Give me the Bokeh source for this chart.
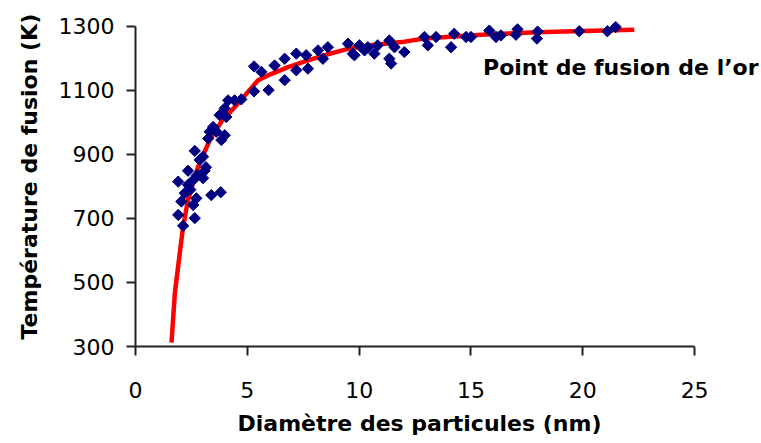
import math
from bokeh.plotting import figure
from bokeh.models import Range1d, FixedTicker, Label, Title
from bokeh.embed import file_html
from bokeh.resources import INLINE

# Measured points: particle diameter (nm) and melting temperature (K)
diam_nm = [1.91, 2.35, 2.65, 2.13, 1.91, 2.65, 2.05, 2.72, 2.58, 3.39, 3.81, 2.20, 2.35, 2.58,
           3.02, 3.09, 2.87, 3.02, 3.25, 3.32, 3.47, 3.84, 3.99, 3.76, 4.06, 3.99, 4.14, 4.43,
           4.73, 5.30, 5.95, 5.30, 5.63, 6.22, 6.67, 6.67, 7.19, 7.19, 7.63, 7.71, 8.16, 8.38,
           8.60, 9.50, 9.72, 10.01, 10.24, 10.68, 10.83, 11.35, 11.58, 11.43, 11.35, 12.02,
           12.92, 13.07, 13.44, 14.25, 14.11, 14.78, 15.00, 15.82, 16.12, 16.34, 17.08, 17.01,
           17.98, 17.95, 19.84, 21.10, 21.47, 2.45, 3.62, 2.75, 3.15, 9.79, 10.39]
temp_k = [815, 849, 911, 677, 711, 701, 753, 763, 742, 773, 782, 779, 805, 820,
          826, 849, 883, 893, 950, 971, 986, 945, 960, 1023, 1017, 1044, 1069, 1069,
          1072, 1097, 1101, 1175, 1158, 1178, 1199, 1132, 1215, 1163, 1210, 1168, 1225, 1199,
          1235, 1246, 1215, 1241, 1225, 1215, 1241, 1256, 1235, 1184, 1199, 1220,
          1267, 1241, 1267, 1277, 1235, 1267, 1267, 1287, 1267, 1272, 1291, 1274,
          1284, 1262, 1285, 1285, 1298, 790, 971, 835, 860, 1210, 1235]

# Fitted curve
fit_d = [1.61, 1.76, 1.98, 2.13, 2.35, 2.80, 3.32, 3.84, 4.58, 5.48, 5.92, 6.82, 7.71,
         8.60, 9.50, 10.5, 11.9, 12.9, 14.1, 16.0, 18.0, 20.0, 22.3]
fit_t = [312, 467, 592, 675, 758, 862, 945, 1002, 1059, 1132, 1147, 1173, 1194,
         1213, 1230, 1241, 1251, 1262, 1268, 1276, 1282, 1286, 1290]

x_ticks = [0, 5, 10, 15, 20, 25]
y_ticks = [300, 500, 700, 900, 1100, 1300]
x_title = "Diamètre des particules (nm)"
y_title = "Température de fusion (K)"
annotation = "Point de fusion de l\u2019or"

# frame spans the full width/top so the annotation is not clipped;
# the axes themselves are limited to 0-25 and 300-1300
p = figure(width=761, height=443, output_backend="svg", toolbar_location=None,
           x_range=Range1d(0, 27.99), y_range=Range1d(300, 1381),
           min_border_left=134, min_border_right=0, min_border_top=0, min_border_bottom=96)
p.outline_line_color = None
p.grid.visible = False
p.background_fill_color = "white"
p.border_fill_color = "white"

p.line(fit_d, fit_t, line_color="#FF0000", line_width=4.5)
p.scatter(diam_nm, temp_k, marker="square", size=8, angle=math.pi / 4,
          fill_color="#000080", line_color="#000080")

font = "DejaVu Sans"
for ax in (p.xaxis[0], p.yaxis[0]):
    ax.axis_line_color = "#222222"
    ax.axis_line_width = 2
    ax.major_tick_line_color = "#222222"
    ax.major_tick_line_width = 2
    ax.major_tick_out = 9
    ax.major_tick_in = 0
    ax.minor_tick_line_color = None
    ax.major_label_text_font = font
    ax.major_label_text_font_size = "22px"
    ax.major_label_text_color = "black"

p.xaxis.bounds = (0, 25)
p.yaxis.bounds = (300, 1300)
p.xaxis.ticker = FixedTicker(ticks=x_ticks)
p.yaxis.ticker = FixedTicker(ticks=y_ticks)
p.xaxis.major_label_standoff = 26
p.yaxis.major_label_standoff = 12

p.add_layout(Title(text=x_title, align="left", offset=102, text_font=font,
                   text_font_style="bold", text_font_size="22px", text_color="black",
                   standoff=16), "below")
p.add_layout(Title(text=y_title, align="left", offset=7, text_font=font,
                   text_font_style="bold", text_font_size="22px", text_color="black",
                   standoff=28), "left")

p.add_layout(Label(x=15.54, y=1172, text=annotation, text_font=font,
                   text_font_style="bold", text_font_size="22px", text_color="black",
                   text_baseline="alphabetic"))

open("out.html", "w").write(file_html(p, INLINE))
